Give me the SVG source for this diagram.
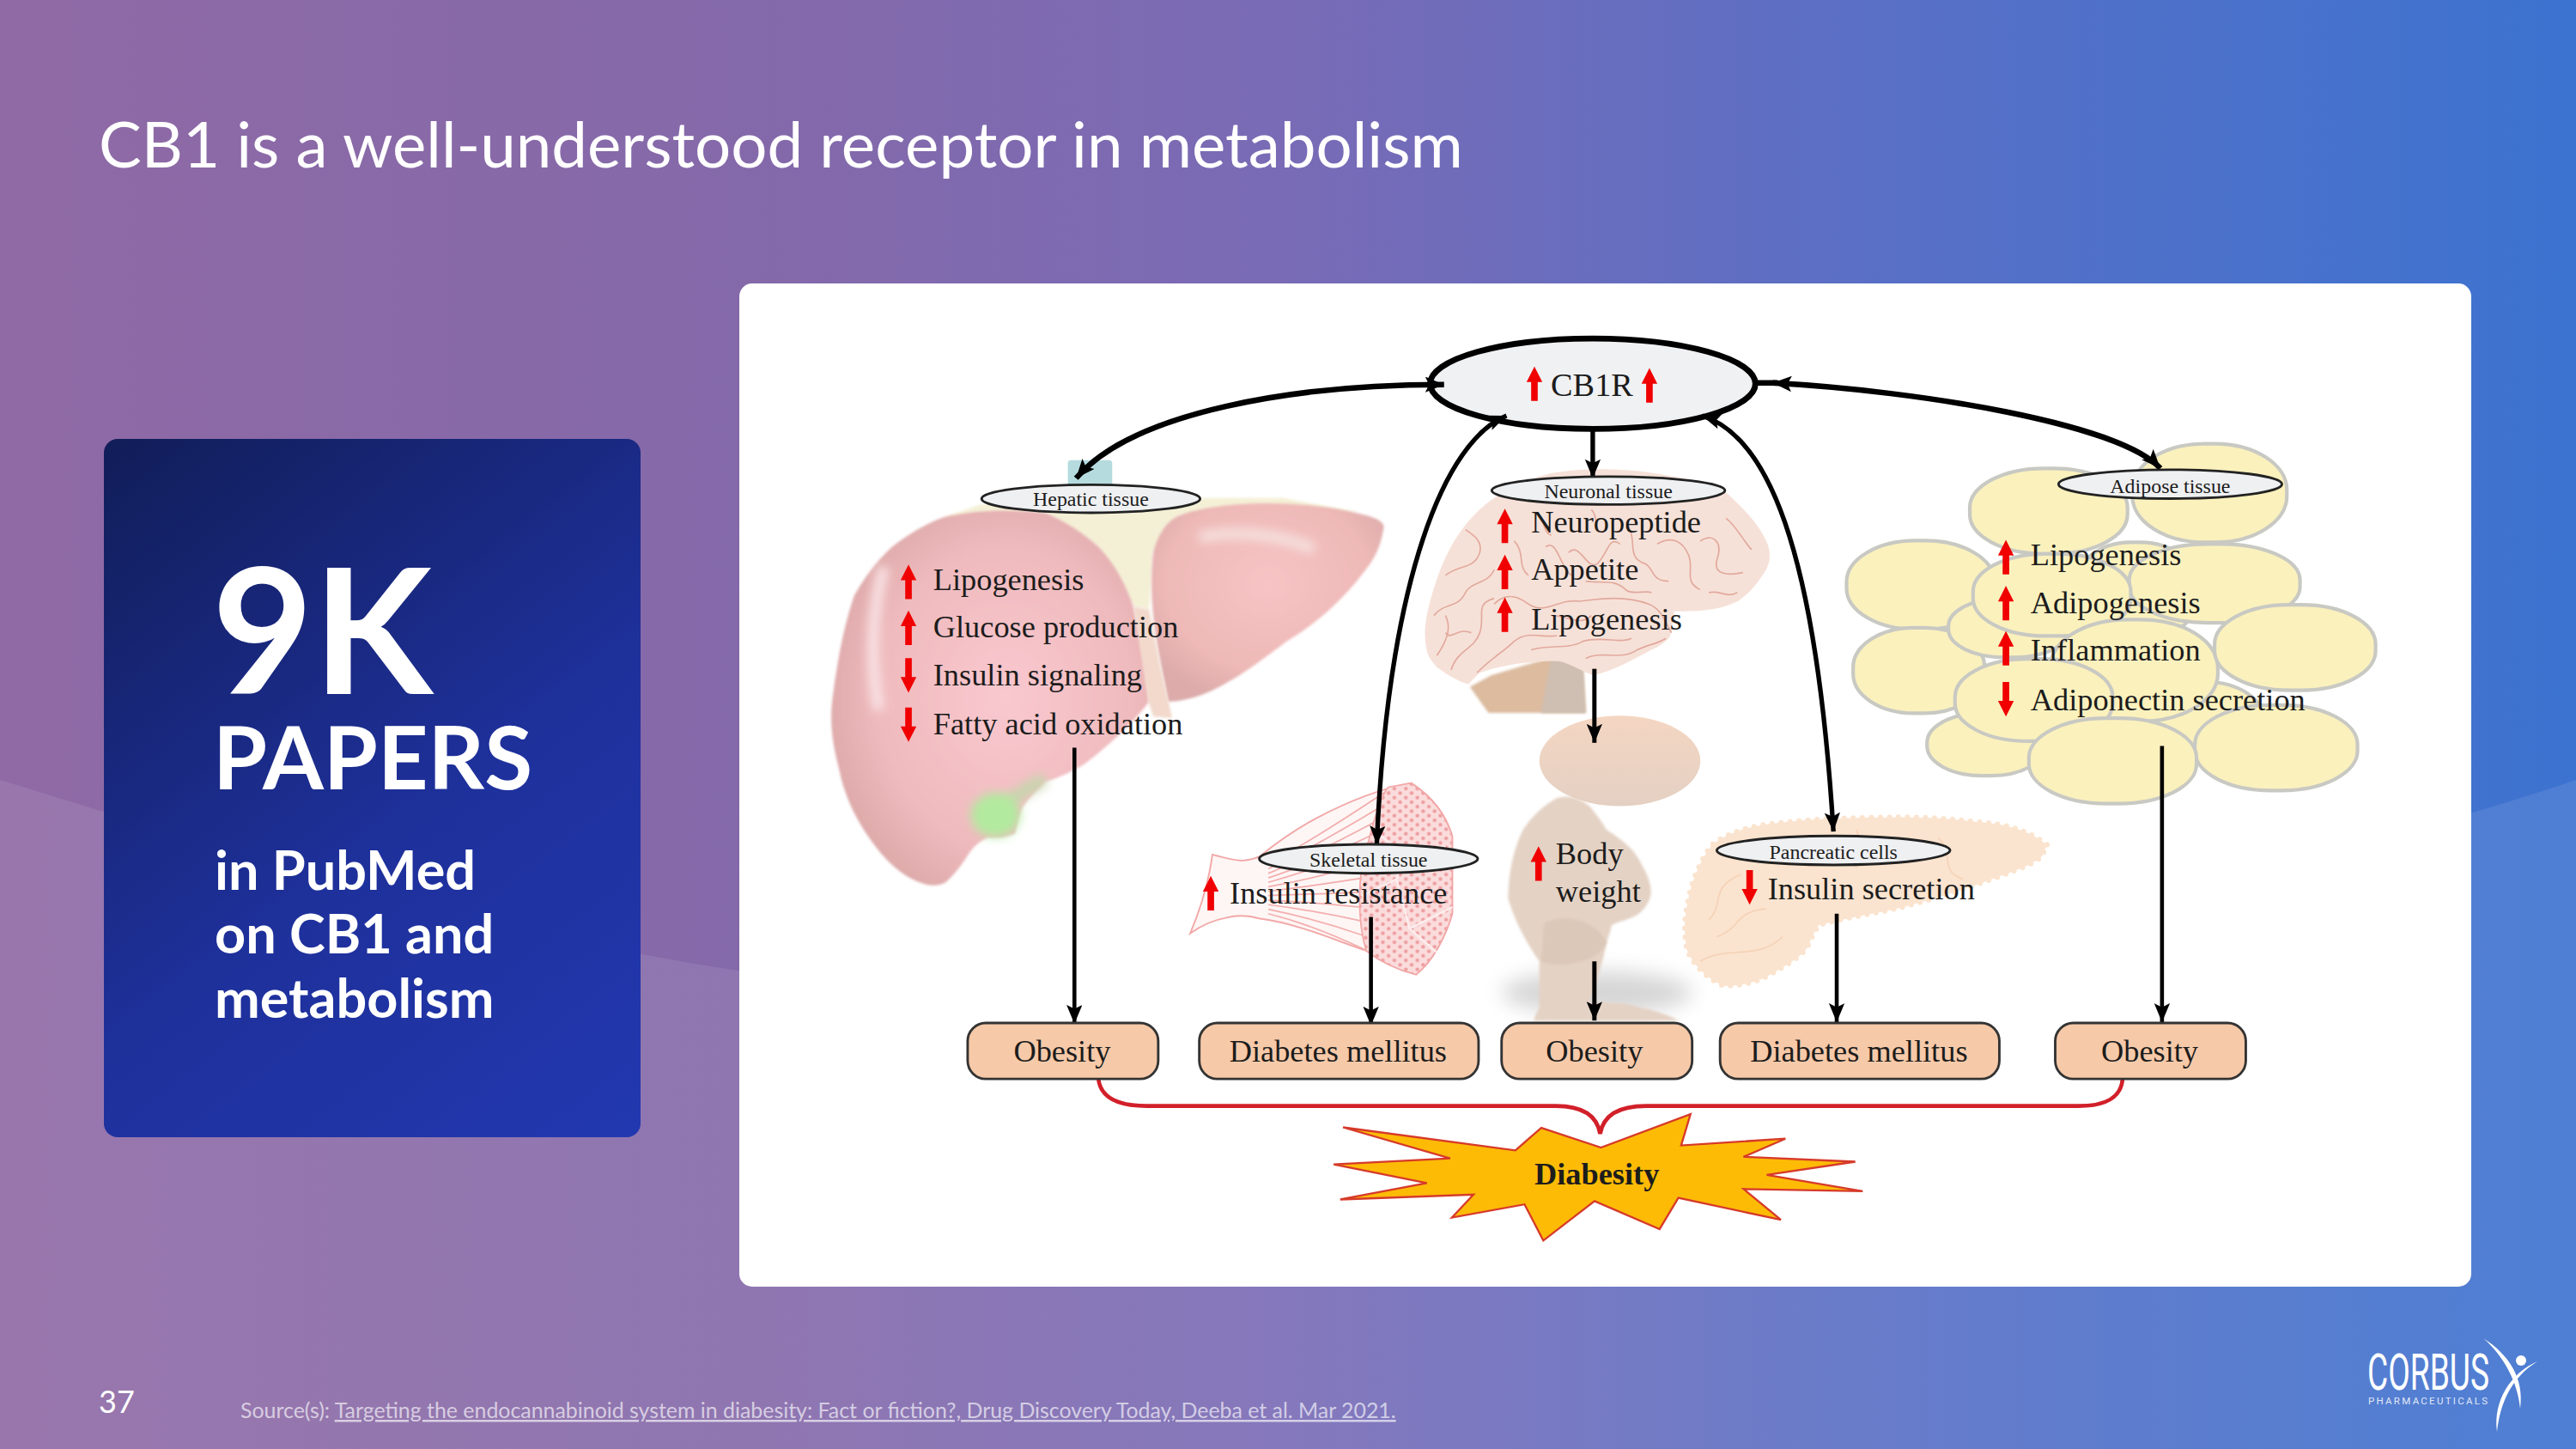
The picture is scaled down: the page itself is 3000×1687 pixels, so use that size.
<svg xmlns="http://www.w3.org/2000/svg" width="3000" height="1687" viewBox="0 0 3000 1687">
<defs>
<linearGradient id="bg" x1="0" y1="0" x2="1" y2="0"><stop offset="0" stop-color="#8f6aa5"/><stop offset="0.3" stop-color="#8469aa"/><stop offset="0.5" stop-color="#796bb6"/><stop offset="0.72" stop-color="#5a6fc5"/><stop offset="1" stop-color="#3c73d0"/></linearGradient>
<linearGradient id="card" gradientUnits="userSpaceOnUse" x1="121" y1="511" x2="746" y2="1324"><stop offset="0" stop-color="#111d58"/><stop offset="0.55" stop-color="#1e309a"/><stop offset="1" stop-color="#2238b0"/></linearGradient>
<radialGradient id="lobeL" cx="0.55" cy="0.5" r="0.62"><stop offset="0" stop-color="#f9c8cf"/><stop offset="0.65" stop-color="#efbabd"/><stop offset="1" stop-color="#d9a5a4"/></radialGradient>
<radialGradient id="lobeR" cx="0.5" cy="0.4" r="0.62"><stop offset="0" stop-color="#f7c3c4"/><stop offset="0.7" stop-color="#eeb9b7"/><stop offset="1" stop-color="#dcabaa"/></radialGradient>
<linearGradient id="head" x1="0" y1="0" x2="0" y2="1"><stop offset="0" stop-color="#f4d6c2"/><stop offset="1" stop-color="#e4d0c3"/></linearGradient>
<pattern id="dots" width="7" height="5.5" patternUnits="userSpaceOnUse"><rect width="7" height="5.5" fill="#fbdcdc"/><circle cx="1.75" cy="1.4" r="1.15" fill="#ee9ea0"/><circle cx="5.25" cy="4.1" r="1.15" fill="#ee9ea0"/></pattern>
<filter id="soft" filterUnits="userSpaceOnUse" x="0" y="0" width="1568" height="882"><feGaussianBlur stdDeviation="0.8"/></filter>
<filter id="soft3" filterUnits="userSpaceOnUse" x="0" y="0" width="1568" height="882"><feGaussianBlur stdDeviation="3"/></filter>
<filter id="soft5" filterUnits="userSpaceOnUse" x="0" y="0" width="1568" height="882"><feGaussianBlur stdDeviation="6"/></filter>
<marker id="ah" viewBox="0 0 12 10" refX="12" refY="5" markerUnits="userSpaceOnUse" markerWidth="11.5" markerHeight="9.6" orient="auto-start-reverse"><path d="M0,0 L12,5 L0,10 L2.5,5Z" fill="#000"/></marker>
<path id="up" d="M0,-10.5 L4.8,-1 L2,-1 L2,10.5 L-2,10.5 L-2,-1 L-4.8,-1Z" fill="#f00000"/>
<path id="dn" d="M0,10.5 L4.8,1 L2,1 L2,-10.5 L-2,-10.5 L-2,1 L-4.8,1Z" fill="#f00000"/>
</defs>
<style>
.s{font-family:"Lato","Noto Sans",sans-serif;fill:#fff}
.t{font-family:"Liberation Serif","Times New Roman",serif;fill:#1c1c1c;font-size:19px}
.c{text-anchor:middle}
.lab{font-family:"Liberation Serif","Times New Roman",serif;fill:#1c1c1c;font-size:12.5px;text-anchor:middle}
.el{fill:#eff0f2;stroke:#222;stroke-width:1.5}
.box{fill:#f6c9a8;stroke:#333;stroke-width:1.5}
.fat{fill:#fbf1bd;stroke:#c9c9c3;stroke-width:2.2}
.w{fill:none;stroke:#000}
.g{fill:none;stroke:#e2a99d;stroke-width:5}
.m{fill:none;stroke:#f3adad;stroke-width:.9}
</style>

<rect id="background" width="3000" height="1687" fill="url(#bg)"/>
<path id="wave" d="M0,908 C300,1000 560,1085 860,1130 C1500,1220 2500,1080 3000,908 L3000,1687 L0,1687Z" fill="#fff" fill-opacity="0.09"/>

<text id="title" class="s" x="115" y="195" font-size="74.5">CB1 is a well-understood receptor in metabolism</text>

<g id="stat-card">
<rect x="121" y="511" width="625" height="813" rx="16" fill="url(#card)"/>
<text class="s" x="247" y="808" font-size="203" font-weight="700">9K</text>
<text class="s" x="248" y="919" font-size="102" font-weight="700">PAPERS</text>
<text class="s" x="250" y="1036" font-size="63" font-weight="700">in PubMed</text>
<text class="s" x="250" y="1110" font-size="63" font-weight="700">on CB1 and</text>
<text class="s" x="250" y="1185" font-size="63" font-weight="700">metabolism</text>
</g>

<rect id="panel" x="861" y="330" width="2017" height="1168" rx="15" fill="#fff"/>

<g id="diagram" transform="scale(1.91327)">
<g id="art-liver">
<rect x="650" y="280" width="27" height="18" rx="2" fill="#b5dbdf"/>
<path d="M573.5,315 L597,307 L730,303 L781,303 L828,312 L718,313.6 L702,336 L699.5,371 L690,369 L669,333 L636.5,312Z" fill="#f4f0d6" filter="url(#soft)"/>
<path d="M702,336 C705,325 710,317 718,313.6 C740,305 790,303 828,312.7 C838,315 844,318 842,322.3 C840,335 835,342 830,348.4 C815,368 800,380 783.5,390 C760,408 745,418 730,423.4 C722,426 716,427 711,427 C706,400 698,370 702,336Z" fill="url(#lobeR)" filter="url(#soft)"/>
<path d="M573.5,315 C595,310 615,310 636.5,312 C650,318 660,325 669,333 C680,345 686,358 690,369.4 C695,390 698,408 699.5,427 C688,442 672,456 660,465 C650,471 642,474 636.5,475.6 C630,482 626,486 622.5,491 C620,497 619,502 618,507 C612,510 606,510 601.5,509.6 C596,512 593,515 590,519 C585,527 581,532 576,536.6 C572,539 568,539 564,538.3 C552,535 544,528 536,519 C522,502 514,485 510.5,467 C506,450 505,437 507,423 C510,400 514,380 520,362.4 C527,350 535,340 543,332.8 C553,325 563,319 573.5,315Z" fill="url(#lobeL)" filter="url(#soft)"/>
<path d="M538,345 C530,375 530,405 535,432" fill="none" stroke="#f9e2e4" stroke-width="7" filter="url(#soft3)"/>
<path d="M730,327 C755,322 780,326 800,334" fill="none" stroke="#f5dfdc" stroke-width="7" filter="url(#soft3)"/>
<path d="M690,369 L699,427 L702,436 L713.5,437 L706,404 L699.5,371Z" fill="#f2d9cc" filter="url(#soft)"/>
<path d="M636,474 C625,480 612,488 604,496" fill="none" stroke="#c7d6ad" stroke-width="8" filter="url(#soft3)"/>
<ellipse cx="606" cy="496" rx="15" ry="13.5" fill="#b2ea9f" filter="url(#soft3)"/>
</g>
<g id="art-fat">
<rect class="fat" x="1298" y="270" width="94" height="60" rx="44" ry="28"/>
<rect class="fat" x="1199" y="285" width="96" height="52" rx="45" ry="24"/>
<rect class="fat" x="1262" y="330" width="76" height="60" rx="35" ry="28"/>
<rect class="fat" x="1124" y="329" width="90" height="54" rx="42" ry="25"/>
<rect class="fat" x="1128" y="382" width="80" height="52" rx="37" ry="24"/>
<rect class="fat" x="1186" y="364" width="74" height="36" rx="34" ry="17"/>
<rect class="fat" x="1296" y="331" width="104" height="48" rx="48" ry="22"/>
<rect class="fat" x="1201" y="337" width="96" height="50" rx="44" ry="23"/>
<rect class="fat" x="1173" y="434" width="72" height="38" rx="33" ry="18"/>
<rect class="fat" x="1302" y="415" width="76" height="50" rx="35" ry="23"/>
<rect class="fat" x="1336" y="429" width="99" height="52" rx="46" ry="24"/>
<rect class="fat" x="1248" y="377" width="102" height="62" rx="47" ry="29"/>
<rect class="fat" x="1190" y="401" width="96" height="50" rx="44" ry="23"/>
<rect class="fat" x="1348" y="368" width="98" height="52" rx="45" ry="24"/>
<rect class="fat" x="1235" y="437" width="102" height="52" rx="47" ry="24"/>
</g>
<g id="art-brain">
<path d="M906,433.8 L894.7,418 L907.7,411 L944.3,400 L963.5,404 L965.2,433.8Z" fill="#dcbb9f" filter="url(#soft)"/>
<path d="M944,401 L963.5,404 L965.2,433.8 L938,433.8Z" fill="#cfbfb2" filter="url(#soft)"/>
<path d="M868.5,395.5 C866,385 868,375 871,364 C875,350 880,336 888.6,324 C895,315 902,308 909.5,303 C920,296 932,291 944,288 C962,285 980,285 996.6,286.6 C1015,289 1033,292 1048.8,298 C1060,308 1070,318 1075,329 C1078,335 1078,341 1075,346.7 C1070,355 1064,362 1057.5,366 C1045,372 1032,372 1019,372 C1018,380 1018,385 1015.7,388.5 C1012,392 1009,394 1005,395.5 C993,402 982,408 970,411 C962,408 956,404 949.5,402.4 C934,402 916,404 900.8,409.4 C898,412 896,414 893.8,416.4 C886,414 880,410 874.6,406 C871,402 869,399 868.5,395.5Z" fill="#f6e1d8"/>
<g transform="translate(857.2,277) scale(.1742)">
<path class="g" d="M130,420 C180,380 230,400 250,340 C260,300 230,280 200,260"/>
<path class="g" d="M90,560 C130,510 170,540 200,480 C220,440 280,450 300,400"/>
<path class="g" d="M100,700 C140,640 150,600 130,560"/>
<path class="g" d="M150,750 C170,680 230,680 250,620 C270,560 230,520 300,500"/>
<path class="g" d="M240,760 C300,700 330,690 370,650 C420,610 470,640 520,630"/>
<path class="g" d="M300,520 C340,480 380,490 420,520 C480,560 520,500 600,510 C680,500 760,490 840,520 C890,540 900,590 920,620"/>
<path class="g" d="M430,680 C490,660 560,680 610,650 C680,630 740,660 780,640"/>
<path class="g" d="M620,710 C680,680 740,720 800,680 C840,660 870,660 900,640"/>
<path class="g" d="M500,560 C560,560 600,600 640,560"/>
<path class="g" d="M560,340 C600,300 620,400 660,380 C700,340 700,280 740,310"/>
<path class="g" d="M480,320 C520,290 530,390 570,420"/>
<path class="g" d="M770,250 C800,300 760,360 830,380 C860,400 850,440 910,440"/>
<path class="g" d="M870,310 C920,280 960,300 980,350 C1000,400 960,440 1020,470"/>
<path class="g" d="M1020,300 C1060,270 1100,300 1080,360 C1060,420 1120,420 1170,410"/>
<path class="g" d="M1110,220 C1150,250 1170,300 1200,330"/>
<path class="g" d="M220,620 C170,600 150,650 130,620"/>
<path class="g" d="M370,300 C410,340 380,390 420,420"/>
<path class="g" d="M1050,480 C1090,470 1110,500 1150,480"/>
<path class="g" d="M620,440 C680,450 720,430 760,470 C780,490 830,470 850,480"/>
<path class="g" d="M450,200 C480,230 470,270 500,280"/>
<path class="g" d="M640,190 C670,220 640,260 680,270"/>
</g>
</g>
<g id="art-body">
<ellipse cx="972" cy="604" rx="58" ry="13" fill="#d6d6d6" filter="url(#soft5)"/>
<ellipse cx="986" cy="463" rx="49" ry="27.5" fill="url(#head)"/>
<path d="M947,486 C955,483 962,486 967.6,490.5 C972,496 975,500 978,505 C986,510 991,514 995,519 C1001,528 1005,536 1005,543.6 C1004,550 1000,555 995,557.6 C990,560 985,561 981,563 C980,568 979,570 978,573 C975,590 970,600 967.6,610 C978,610 990,610 998,613 C1008,615 1016,618 1022,621 L933.6,621 C935,617 936,615 937,613 L937,585 C928,572 922,560 918,547 C918,530 922,515 927,505 C932,497 940,490 947,486Z" fill="#e4d2c4" filter="url(#soft)"/>
<path d="M940,562 C948,556 970,558 978,573 C975,585 950,590 938,585Z" fill="#dcc8b9" filter="url(#soft)"/>
</g>
<g id="art-muscle">
<path d="M738,520 C745,522 752,524 757,523.6 C762,523 765,522 767,521 C778,512 790,504 801,498 C820,488 840,480 859,476.5 C872,485 880,495 884,509 L884,556 C880,570 872,585 862,593 C850,590 840,585 831.6,578.5 C812,572 790,562 767,559 C760,557 752,557 746.6,558.4 C738,560 730,564 724.5,568 C732,550 736,535 738,520Z" fill="#fef6f5" stroke="#f2a8a8" stroke-width="1"/>
<path class="m" d="M772,526 Q800,510.6 843,482"/><path class="m" d="M772,528.7 Q800,515.5 841,490.7"/><path class="m" d="M772,531.5 Q800,520 838,499.5"/><path class="m" d="M772,534.2 Q800,525 835,508.2"/><path class="m" d="M772,536.9 Q800,529 832,517"/><path class="m" d="M772,539.6 Q800,534.7 830,525.6"/><path class="m" d="M772,542.4 Q800,539 829,534.4"/><path class="m" d="M772,545 Q800,544 828,543"/><path class="m" d="M772,547.8 Q800,549 828,552"/><path class="m" d="M772,550.5 Q800,554 829,560.5"/><path class="m" d="M772,553.3 Q800,559 830,569.3"/><path class="m" d="M772,556 Q800,563 831,578"/>
<path d="M859,476.5 C872,485 880,495 884,509 L884,556 C880,570 872,585 862,593 C850,590 840,585 831.6,578.5 C826,560 826,530 833,512 C836,500 840,485 845,479Z" fill="url(#dots)" stroke="#f2a8a8" stroke-width=".9"/>
<path d="M836,505 L855,520 L880,515 M829,545 L850,535 L855,520 M850,535 L858,565 L875,580 M858,565 L884,552" fill="none" stroke="#fdeeee" stroke-width="1.2"/>
</g>
<g id="art-pancreas">
<path d="M1246,514 C1235,505 1220,501 1202,500 C1180,497 1160,497 1137.6,497.5 C1115,498 1093,499 1073,502 C1060,504 1050,508 1042,514 C1034,525 1029,538 1027,550.6 C1025,560 1025,570 1027,578.5 C1031,588 1040,596 1049,600 C1060,600 1068,598 1076,594 C1086,588 1094,584 1100,577 C1103,570 1105,566 1107,563 C1125,558 1142,556 1158,552 C1182,546 1205,538 1226,530 C1234,527 1240,524 1243,521Z" fill="#fbe4cf" stroke="#fbe4cf" stroke-width="3.2" stroke-linecap="round" stroke-dasharray="0 5.5"/>
<path d="M1040,560 C1050,550 1040,540 1060,532 M1035,585 C1050,575 1070,585 1085,570 M1045,570 C1060,565 1055,555 1075,553 M1180,510 C1190,520 1180,530 1195,535 M1130,505 C1135,515 1125,520 1130,528" fill="none" stroke="#f5d4b9" stroke-width="1"/>
</g>

<g id="node-cb1r">
<ellipse cx="969.5" cy="233.5" rx="99" ry="27.5" fill="#f0f1f3" stroke="#000" stroke-width="3.6"/>
<use href="#up" x="934" y="233.5"/><use href="#up" x="1004" y="234.5"/>
<text class="t c" x="969" y="241" style="font-size:20px">CB1R</text>
</g>

<g id="connectors">
<path class="w" stroke-width="3.4" marker-start="url(#ah)" marker-end="url(#ah)" d="M879,234 C790,234 690,250 655,291"/>
<path class="w" stroke-width="3.4" d="M1068,233 H1082"/>
<path class="w" stroke-width="3.4" marker-start="url(#ah)" marker-end="url(#ah)" d="M1079,233 C1170,238 1290,258 1315,285"/>
<path class="w" stroke-width="2.8" marker-start="url(#ah)" marker-end="url(#ah)" d="M917,253 C880,268 845,350 838,514"/>
<path class="w" stroke-width="2.8" marker-start="url(#ah)" marker-end="url(#ah)" d="M1036,253 C1075,265 1105,330 1116,506"/>
<path class="w" stroke-width="2.8" marker-end="url(#ah)" d="M969.5,262 V291"/>
<path class="w" stroke-width="2.4" marker-end="url(#ah)" d="M654,455 V623"/>
<path class="w" stroke-width="2.4" marker-end="url(#ah)" d="M834.5,558 V624"/>
<path class="w" stroke-width="2.6" marker-end="url(#ah)" d="M970.5,407 V452"/>
<path class="w" stroke-width="2.6" marker-end="url(#ah)" d="M970.5,585 V621"/>
<path class="w" stroke-width="2.4" marker-end="url(#ah)" d="M1118,556 V622"/>
<path class="w" stroke-width="2.4" marker-end="url(#ah)" d="M1316,454 V622"/>
<path id="brace" fill="none" stroke="#d2202a" stroke-width="2.4" d="M668.6,656.6 C670,668 680,673 698,673 L947,673 C962,673 972,678 974,690 C976,678 986,673 1002,673 L1265,673 C1282,673 1291,668 1292,656.6"/>
</g>

<g id="node-hepatic">
<ellipse class="el" cx="664" cy="303.5" rx="66.5" ry="8.5"/>
<text class="lab" x="664" y="308">Hepatic tissue</text>
<use href="#up" x="553" y="354"/><use href="#up" x="553" y="382"/><use href="#dn" x="553" y="411"/><use href="#dn" x="553" y="441"/>
<text class="t" x="568" y="359">Lipogenesis</text>
<text class="t" x="568" y="388">Glucose production</text>
<text class="t" x="568" y="417">Insulin signaling</text>
<text class="t" x="568" y="447">Fatty acid oxidation</text>
</g>
<g id="node-neuronal">
<ellipse class="el" cx="979" cy="298.5" rx="71" ry="8.5"/>
<text class="lab" x="979" y="303">Neuronal tissue</text>
<use href="#up" x="916" y="320"/><use href="#up" x="916" y="348"/><use href="#up" x="916" y="374"/>
<text class="t" x="932" y="324">Neuropeptide</text>
<text class="t" x="932" y="353">Appetite</text>
<text class="t" x="932" y="383">Lipogenesis</text>
</g>
<g id="node-adipose">
<ellipse class="el" cx="1321" cy="294.6" rx="68" ry="8.8"/>
<text class="lab" x="1321" y="300">Adipose tissue</text>
<use href="#up" x="1221" y="339"/><use href="#up" x="1221" y="367"/><use href="#up" x="1221" y="394.5"/><use href="#dn" x="1221" y="425.5"/>
<text class="t" x="1236" y="344">Lipogenesis</text>
<text class="t" x="1236" y="373">Adipogenesis</text>
<text class="t" x="1236" y="402">Inflammation</text>
<text class="t" x="1236" y="432">Adiponectin secretion</text>
</g>
<g id="node-skeletal">
<ellipse class="el" cx="833" cy="522.6" rx="66.5" ry="8.8"/>
<text class="lab" x="833" y="527.5">Skeletal tissue</text>
<use href="#up" x="737" y="543.5"/>
<text class="t" x="748.5" y="550">Insulin resistance</text>
</g>
<g id="node-body">
<use href="#up" x="936.5" y="525.5"/>
<text class="t" x="947" y="526">Body</text>
<text class="t" x="947" y="549">weight</text>
</g>
<g id="node-pancreatic">
<ellipse class="el" cx="1116" cy="517.5" rx="71" ry="8.8"/>
<text class="lab" x="1116" y="522.5">Pancreatic cells</text>
<use href="#dn" x="1065" y="540"/>
<text class="t" x="1076" y="547">Insulin secretion</text>
</g>
<g id="node-obesity-1"><rect class="box" x="589" y="622.5" width="116" height="34" rx="11"/><text class="t c" x="646.5" y="646">Obesity</text></g>
<g id="node-diabetes-1"><rect class="box" x="730" y="622.5" width="170" height="34" rx="11"/><text class="t c" x="814.5" y="646">Diabetes mellitus</text></g>
<g id="node-obesity-2"><rect class="box" x="914" y="622.5" width="116" height="34" rx="11"/><text class="t c" x="970.5" y="646">Obesity</text></g>
<g id="node-diabetes-2"><rect class="box" x="1047" y="622.5" width="170" height="34" rx="11"/><text class="t c" x="1131.5" y="646">Diabetes mellitus</text></g>
<g id="node-obesity-3"><rect class="box" x="1251" y="622.5" width="116" height="34" rx="11"/><text class="t c" x="1308.5" y="646">Obesity</text></g>
<g id="node-diabesity">
<polygon points="817.5,686 922.4,700 938.2,686.3 974.5,698.3 1029,678 1023.3,697 1086.8,692.9 1061.3,703.9 1129.3,706.9 1075.4,714.9 1133.8,724.9 1061.3,723.5 1084,742.3 1021.6,728.9 1010.2,747.9 970.6,730.9 939.4,754.9 928,732.9 883.8,740.9 896.9,726.9 815.8,729.9 868.5,719.9 811.8,708.5 882.7,704.9" fill="#fdbb05" stroke="#d63a2a" stroke-width="1.2"/>
<text class="t c" x="972" y="721" font-weight="700">Diabesity</text>
</g>
</g>

<text id="page-number" class="s" x="115" y="1645" font-size="36">37</text>
<text id="source" class="s" x="280" y="1651" font-size="24.9" fill-opacity="0.65">Source(s): <tspan text-decoration="underline">Targeting the endocannabinoid system in diabesity: Fact or fiction?, Drug Discovery Today, Deeba et al. Mar 2021.</tspan></text>

<g id="logo">
<text x="2757" y="1618" font-family="Roboto,'Liberation Sans',sans-serif" font-size="60" fill="#fff" textLength="142" lengthAdjust="spacingAndGlyphs">CORBUS</text>
<text x="2758" y="1635" font-family="Roboto,'Liberation Sans',sans-serif" font-size="11.5" fill="#fff" fill-opacity=".85" textLength="139">PHARMACEUTICALS</text>
<circle cx="2936" cy="1584" r="6" fill="#fff"/>
<path d="M2892,1558 C2922,1577 2940,1605 2935,1640 C2932,1608 2915,1578 2892,1558Z" fill="#fff"/>
<path d="M2955,1585 C2925,1598 2903,1630 2908,1667 C2912,1632 2925,1604 2955,1585Z" fill="#fff"/>
</g>
</svg>
